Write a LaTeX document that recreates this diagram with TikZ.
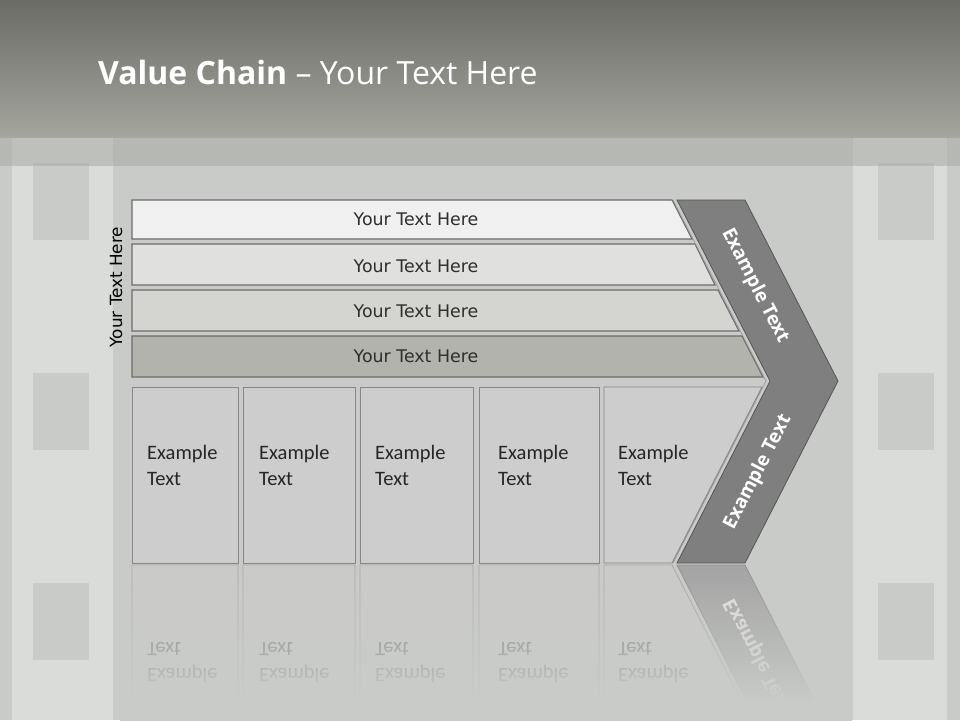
\documentclass[tikz,border=0pt]{standalone}
\usepackage{fontspec}
\setmainfont{Open Sans}
\newfontfamily\barfont{DejaVu Sans}
\newfontfamily\boxfont{Carlito}
\usetikzlibrary{fadings}
\definecolor{hdrtop}{HTML}{6B6C66}
\definecolor{hdrbot}{HTML}{A4A59D}
\definecolor{bandc}{HTML}{A8AAA3}
\definecolor{bgmain}{HTML}{C9CBC8}
\definecolor{stripc}{HTML}{DADCD9}
\definecolor{sqc}{HTML}{C9CBC8}
\definecolor{barA}{HTML}{F0F0F0}
\definecolor{barB}{HTML}{E0E0DF}
\definecolor{barC}{HTML}{D4D4D0}
\definecolor{barD}{HTML}{B3B3AD}
\definecolor{barline}{HTML}{6B6B6B}
\definecolor{boxfill}{HTML}{CDCDCD}
\definecolor{boxline}{HTML}{878787}
\definecolor{chevc}{HTML}{7F7F7F}
\definecolor{chevline}{HTML}{555555}
\definecolor{txtc}{HTML}{2E2E2E}
\tikzset{
  barshape/.style={draw=barline, line width=1.1pt},
  boxshape/.style={draw=boxline, fill=boxfill, line width=0.9pt},
  chevshape/.style={draw=chevline, fill=chevc, line width=0.8pt},
  bartext/.style={text=txtc, font=\barfont\fontsize{17.4}{20}\selectfont, inner sep=0pt},
  boxtext/.style={text=black!85, font=\boxfont\fontsize{20.5}{26}\selectfont, align=left, anchor=west, inner sep=0pt},
  chevtext/.style={text=white, font=\bfseries\fontsize{19}{22}\selectfont, inner sep=0pt},
}
\newcommand\vcLower[1]{%
  \path[boxshape] (132,387) rectangle (238,563);
  \path[boxshape] (243,387) rectangle (355,563);
  \path[boxshape] (360,387) rectangle (473,563);
  \path[boxshape] (479,387) rectangle (599,563);
  \path[boxshape] (604,387) -- (762,387) -- (672,563) -- (604,563) -- cycle;
  \node[boxtext] (#1t1) at (147,465) {Example\\Text};
  \node[boxtext] (#1t2) at (259,465) {Example\\Text};
  \node[boxtext] (#1t3) at (375,465) {Example\\Text};
  \node[boxtext] (#1t4) at (498,465) {Example\\Text};
  \node[boxtext] (#1t5) at (618,465) {Example\\Text};
  \path[chevshape] (677,200) -- (745,200) -- (838,381) -- (745,563) -- (677,563) -- (770,381) -- cycle;
  \node[chevtext, rotate=62.8] (#1c2) at (758,472) {Example Text};
}
\begin{document}
\begin{tikzpicture}[x=1pt,y=-1pt]
\useasboundingbox (0,0) rectangle (960,720);
% background
\fill[bgmain] (0,137) rectangle (960,720);
\fill[stripc] (12,137) rectangle (113,720);
\fill[stripc] (853,137) rectangle (947,720);
\foreach \yy in {163,373,583} {
  \fill[sqc] (33,\yy) rectangle (89,\yy+77);
  \fill[sqc] (878,\yy) rectangle (934,\yy+77);
}
% header
\shade[top color=hdrtop, bottom color=hdrbot] (0,0) rectangle (960,137);
\fill[bandc, opacity=0.55] (0,137) rectangle (960,166);
\node[anchor=base west, text=white, font=\fontsize{32}{38}\selectfont, inner sep=0pt] (title) at (98,84) {\textbf{Value Chain} – Your Text Here};
% bars
\path[barshape, fill=barA] (132,200) -- (672,200) -- (692,239) -- (132,239) -- cycle;
\path[barshape, fill=barB] (132,244) -- (695,244) -- (715,285) -- (132,285) -- cycle;
\path[barshape, fill=barC] (132,290) -- (718,290) -- (739,331) -- (132,331) -- cycle;
\path[barshape, fill=barD] (132,336) -- (742,336) -- (763,377) -- (132,377) -- cycle;
\node[bartext] (b1) at (416,219) {Your Text Here};
\node[bartext] (b2) at (416,266) {Your Text Here};
\node[bartext] (b3) at (416,311) {Your Text Here};
\node[bartext] (b4) at (416,356) {Your Text Here};
\node[bartext, text=black, font=\barfont\fontsize{16.8}{20}\selectfont, rotate=90] (side) at (116,287) {Your Text Here};
% light edge beside chevron
\draw[black!40, line width=0.7pt] (673,200) -- (766,381) -- (673,563);
% lower boxes and chevron
\vcLower{m}
\node[chevtext, rotate=-62.8] (c1) at (755,286) {Example Text};
% reflection
\begin{scope}[transparency group, opacity=0.5]
\begin{scope}[cm={1,0,0,-1,(0pt,-1128pt)}, transform shape]
\vcLower{r}
\end{scope}
\end{scope}
\fill[bgmain, path fading=north] (120,566) rectangle (852,702);
\fill[bgmain] (120,701) rectangle (852,721);
\end{tikzpicture}
\end{document}
